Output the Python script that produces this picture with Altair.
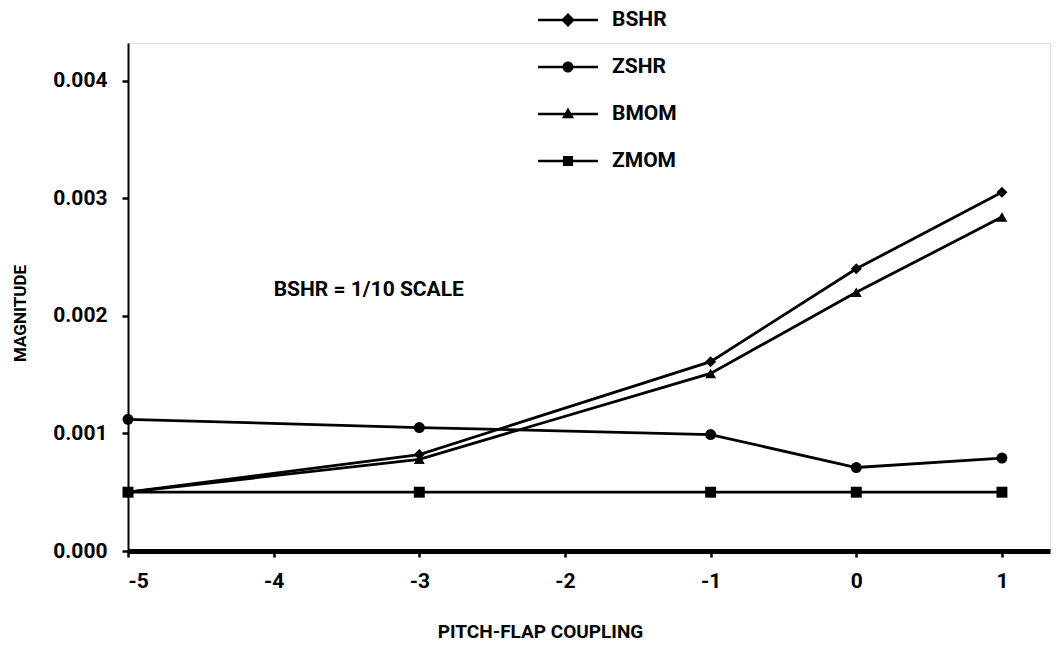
import altair as alt
import pandas as pd

x_vals = [-5, -3, -1, 0, 1]
series_names = ["BSHR", "ZSHR", "BMOM", "ZMOM"]
bshr = [0.00050, 0.00082, 0.00161, 0.00240, 0.00305]
zshr = [0.00112, 0.00105, 0.00099, 0.00071, 0.00079]
bmom = [0.00050, 0.00078, 0.00151, 0.00220, 0.00284]
zmom = [0.00050, 0.00050, 0.00050, 0.00050, 0.00050]
x_ticks = [-5, -4, -3, -2, -1, 0, 1]
y_ticks = [0.0, 0.001, 0.002, 0.003, 0.004]
note_text = ["BSHR = 1/10 SCALE"]
note_x = [-4.0]
note_y = [0.00222]

rows = []
for name, vals in zip(series_names, [bshr, zshr, bmom, zmom]):
    for x, v in zip(x_vals, vals):
        rows.append({"coupling": x, "magnitude": v, "series": name})
df = pd.DataFrame(rows)
note_df = pd.DataFrame({"x": note_x, "y": note_y, "t": note_text})

FONT = "Roboto"

x_scale = alt.Scale(domain=[-5, 1.33], nice=False, zero=False)
y_scale = alt.Scale(domain=[0, 0.00432], nice=False)

x_enc = alt.X("coupling:Q", scale=x_scale, axis=alt.Axis(
    values=x_ticks, labelExpr="'' + datum.value", title="PITCH-FLAP  COUPLING",
    grid=False, domainWidth=5, domainColor="black", tickColor="black", tickWidth=2.5,
    tickSize=6, labelFontSize=21, labelFont=FONT, labelFontWeight="bold", labelColor="black",
    labelPadding=13, titleFont=FONT, titleFontSize=19, titleFontWeight="bold", titleColor="black",
    titleX=412, titleY=80, titleBaseline="middle", titleAlign="center"))
y_enc = alt.Y("magnitude:Q", scale=y_scale, axis=alt.Axis(
    values=y_ticks, format=".3f", title="MAGNITUDE",
    grid=False, domainWidth=2, domainColor="black", tickColor="black", tickWidth=2.5,
    tickSize=6, labelFontSize=21, labelFont=FONT, labelFontWeight="bold", labelColor="black",
    labelPadding=15, titleFont=FONT, titleFontSize=17, titleFontWeight="bold", titleColor="black",
    titleX=-108, titleY=270, titleAngle=-90, titleBaseline="middle", titleAlign="center"))

shape_dom = series_names
data_shapes = ["diamond", "circle", "triangle-up", "square"]
ln = "M-1.3,-0.05H1.3V0.05H-1.3Z"
legend_shapes = [
    ln + "M-0.3,0L0,-0.3L0.3,0L0,0.3Z",
    ln + "M-0.24,0A0.24,0.24 0 1,1 0.24,0A0.24,0.24 0 1,1 -0.24,0Z",
    ln + "M-0.26,0.18L0,-0.28L0.26,0.18Z",
    ln + "M-0.22,-0.22H0.22V0.22H-0.22Z",
]

lines = alt.Chart(df).mark_line(color="black", strokeWidth=2.8).encode(
    x=x_enc, y=y_enc, detail="series:N")

points = alt.Chart(df).mark_point(filled=True, color="black", opacity=1, size=120).encode(
    x=x_enc, y=y_enc,
    shape=alt.Shape("series:N", scale=alt.Scale(domain=shape_dom, range=data_shapes), legend=None))

legend_layer = alt.Chart(df).transform_filter("false").mark_point(
    filled=True, color="black").encode(
    x=x_enc, y=y_enc,
    shape=alt.Shape("series:N", scale=alt.Scale(domain=shape_dom, range=legend_shapes),
                    legend=alt.Legend(title=None, orient="none", legendX=417, legendY=-46,
                                      symbolSize=2116, symbolFillColor="black",
                                      symbolStrokeColor="black", symbolStrokeWidth=0,
                                      symbolOpacity=1, labelFont=FONT, labelFontSize=21,
                                      labelFontWeight="bold", labelColor="black",
                                      labelOffset=21, rowPadding=14, padding=0)))

note = alt.Chart(note_df).mark_text(align="left", baseline="middle", font=FONT,
                                     fontSize=21, fontWeight="bold", color="black").encode(
    x=alt.X("x:Q", scale=x_scale), y=alt.Y("y:Q", scale=y_scale), text="t:N")

chart = alt.layer(lines, points, legend_layer, note).resolve_scale(shape="independent").properties(
    width=922, height=508, autosize="none",
    padding={"left": 128, "top": 43, "right": 6, "bottom": 95},
).configure_view(stroke=None).configure(background="white")

chart.save("out.html", embed_options={"renderer": "svg", "actions": False})
